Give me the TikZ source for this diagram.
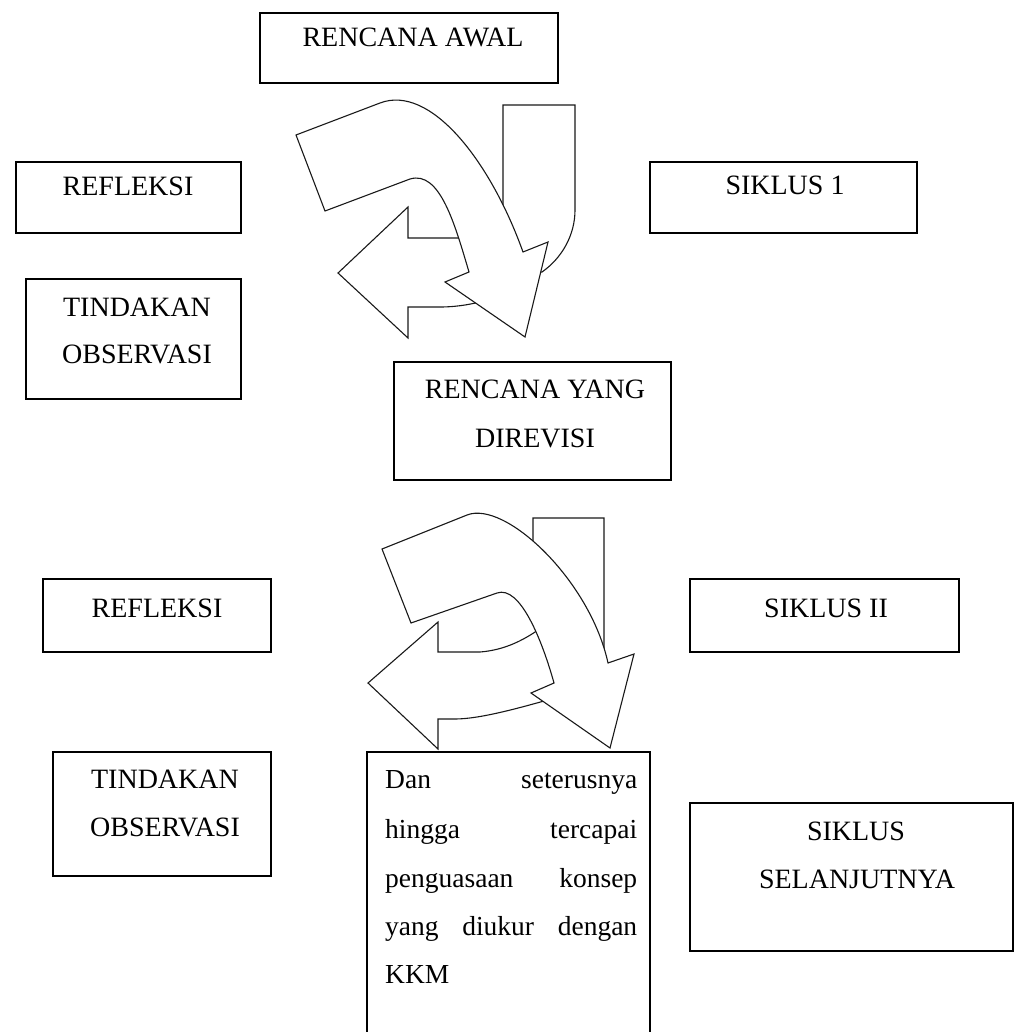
\documentclass[tikz,border=0pt]{standalone}
\usepackage{fontspec}
\setmainfont{Liberation Serif}
\begin{document}
\begin{tikzpicture}[x=1pt,y=-1pt,
  box/.style={draw=black, line width=1.2pt, rectangle, inner sep=0pt},
  lbl/.style={font=\fontsize{28}{33}\selectfont, inner sep=0pt, anchor=base},
  para/.style={font=\fontsize{27.5}{33}\selectfont, inner sep=0pt, anchor=base west, text width=252pt, align=left},
  arr/.style={draw=black!90, fill=white, line width=1.1pt, line join=miter}]
\useasboundingbox (0,0) rectangle (1016,1032);
\clip (0,0) rectangle (1016,1032);

% ---------- boxes ----------
\node[box, minimum width=298pt, minimum height=70pt] (ra) at (409,48) {};
\node[box, minimum width=225pt, minimum height=71pt] (ref1) at (128.5,197.5) {};
\node[box, minimum width=215pt, minimum height=120pt] (to1) at (133.5,339) {};
\node[box, minimum width=267pt, minimum height=71pt] (s1) at (783.5,197.5) {};
\node[box, minimum width=277pt, minimum height=118pt] (ryd) at (532.5,421) {};
\node[box, minimum width=228pt, minimum height=73pt] (ref2) at (157,615.5) {};
\node[box, minimum width=218pt, minimum height=124pt] (to2) at (162,814) {};
\node[box, minimum width=269pt, minimum height=73pt] (s2) at (824.5,615.5) {};
\node[box, minimum width=323pt, minimum height=148pt] (ss) at (851.5,877) {};
\node[box, minimum width=283pt, minimum height=298pt] (dan) at (508.5,901) {};

% ---------- labels ----------
\node[lbl] (ra-t) at (413,47) {RENCANA AWAL};
\node[lbl] (ref1-t) at (128,196) {REFLEKSI};
\node[lbl] (to1-a) at (137,316) {TINDAKAN};
\node[lbl] (to1-b) at (137,363) {OBSERVASI};
\node[lbl] (s1-t) at (785,195) {SIKLUS 1};
\node[lbl] (ryd-a) at (535,398) {RENCANA YANG};
\node[lbl] (ryd-b) at (535,447) {DIREVISI};
\node[lbl] (ref2-t) at (157,617) {REFLEKSI};
\node[lbl] (to2-a) at (165,788) {TINDAKAN};
\node[lbl] (to2-b) at (165,836) {OBSERVASI};
\node[lbl] (s2-t) at (826,617) {SIKLUS II};
\node[lbl] (ss-a) at (856,840) {SIKLUS};
\node[lbl] (ss-b) at (857,888) {SELANJUTNYA};
\node[para] (dan-1) at (385,788) {Dan\hfill seterusnya};
\node[para] (dan-2) at (385,838) {hingga\hfill tercapai};
\node[para] (dan-3) at (385,887) {penguasaan\hfill konsep};
\node[para] (dan-4) at (385,935) {yang\hfill diukur\hfill dengan};
\node[para] (dan-5) at (385,983) {KKM};

% ---------- cycle 1 arrows ----------
\path[arr] (503,105) -- (575,105) -- (575,210)
  .. controls (575,235) and (562,258) .. (542,272) -- (520,272) -- (503,230) -- cycle;
\path[arr] (338,273) -- (408,207) -- (408,238) -- (495,238) -- (500,296)
  .. controls (480,303) and (460,307) .. (440,307) -- (408,307) -- (408,338) -- cycle;
\path[arr] (296,135) -- (380,103) .. controls (430,84) and (490,160) .. (523,252)
  -- (548,242) -- (525,337) -- (445,282) -- (469,272)
  .. controls (455,225) and (440,170) .. (410,179) -- (325,211) -- cycle;

% ---------- cycle 2 arrows ----------
\path[arr] (533,518) -- (604,518) -- (604,650) -- (570,650) -- (533,560) -- cycle;
\path[arr] (368,683) -- (438,622) -- (438,652) -- (480,652)
  .. controls (505,650) and (525,640) .. (545,625) -- (565,695)
  .. controls (520,708) and (480,719) .. (455,719) -- (438,719) -- (438,749) -- cycle;
\path[arr] (382,549) -- (467,515) .. controls (505,500) and (590,580) .. (608,663)
  -- (634,654) -- (610,748) -- (531,693) -- (554,683)
  .. controls (542,640) and (520,585) .. (497,593) -- (411,623) -- cycle;
\end{tikzpicture}
\end{document}
